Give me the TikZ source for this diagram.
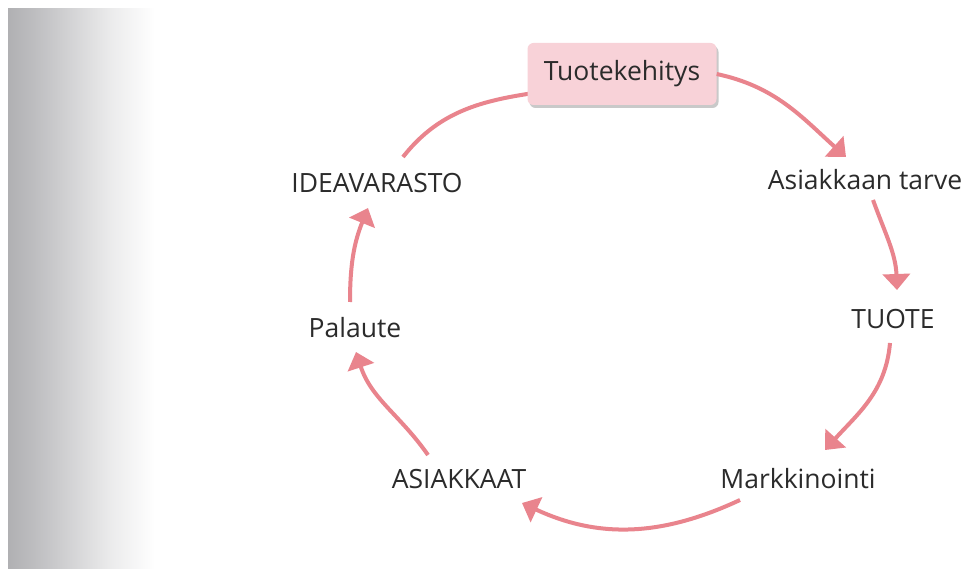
\documentclass[tikz,border=0pt]{standalone}
\usepackage{fontspec}
\setmainfont{Open Sans}
\usetikzlibrary{arrows.meta,calc,shadows}
\definecolor{arr}{HTML}{E9848D}
\definecolor{boxpink}{HTML}{F8D2D8}
\definecolor{txt}{HTML}{2B2B2B}
\definecolor{scang}{HTML}{B0B0B3}
\pgfdeclarehorizontalshading{scanshade}{100bp}{color(0bp)=(scang); color(25bp)=(scang); color(33bp)=(scang!85!white); color(60bp)=(scang!25!white); color(75bp)=(white); color(100bp)=(white)}
\begin{document}
\begin{tikzpicture}[x=1pt,y=1pt,
  lbl/.style={font=\fontsize{26.5}{30}\selectfont, text=txt, inner sep=0pt, anchor=base},
  tkbox/.style={font=\fontsize{26.5}{30}\selectfont, text=txt, fill=boxpink, rounded corners=6pt,
    minimum width=189pt, minimum height=62pt, inner sep=0pt,
    drop shadow={shadow xshift=2pt, shadow yshift=-3pt, fill=black!35, opacity=0.6}},
  cyc/.style={draw=arr, line width=4pt, -{Triangle[width=27pt,length=16pt]}},
  cycplain/.style={draw=arr, line width=4pt}]
\useasboundingbox (0,0) rectangle (968,568);
\fill[white] (0,0) rectangle (968,568);
\shade[shading=scanshade] (8,0) rectangle (155,559);
\node[lbl] (id) at (377,375) {IDEAVARASTO};
\node[lbl] (at) at (865,378) {Asiakkaan tarve};
\node[lbl] (tu) at (893,240) {TUOTE};
\node[lbl] (mk) at (798,80) {Markkinointi};
\node[lbl] (as) at (459,80) {ASIAKKAAT};
\node[lbl] (pa) at (355,231) {Palaute};
\draw[cycplain] ($(id.base)+(26,36)$) to[out=52,in=-165] ($(622,491)$) coordinate (tkin);
\node[tkbox] (tk) at (622,494) {Tuotekehitys};
\draw[cyc] (tk.east) to[out=-12,in=138] ($(at.base)+(-19,33)$);
\draw[cyc] ($(at.base)+(8,-10)$) to[out=-70,in=92] ($(tu.base)+(4,38)$);
\draw[cyc] ($(tu.base)+(-3,-15)$) to[out=-95,in=48] ($(mk.base)+(27,38)$);
\draw[cyc] ($(mk.base)+(-58,-12)$) to[out=205,in=-25] ($(as.base)+(63,-15)$);
\draw[cyc] ($(as.base)+(-31,33)$) to[out=125,in=-72] ($(pa.base)+(1,-15)$);
\draw[cyc] ($(pa.base)+(-5,35)$) to[out=90,in=-112] ($(id.base)+(-9,-15)$);
\end{tikzpicture}
\end{document}
